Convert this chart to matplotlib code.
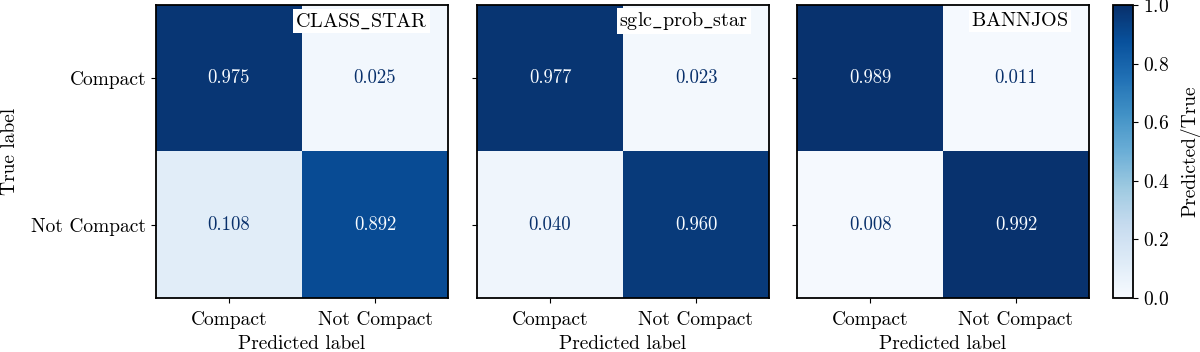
import numpy as np
import matplotlib
matplotlib.use("Agg")
import matplotlib.pyplot as plt

plt.rcParams["font.family"] = "serif"
plt.rcParams["font.serif"] = ["cmr10"]
plt.rcParams["mathtext.fontset"] = "cm"
plt.rcParams["axes.formatter.use_mathtext"] = True
plt.rcParams["font.size"] = 14

labels = ["Compact", "Not Compact"]
titles = [r"$\mathrm{CLASS\_STAR}$", r"$\mathrm{sglc\_prob\_star}$", r"$\mathrm{BANNJOS}$"]
cm_class_star = [[0.975, 0.025], [0.108, 0.892]]
cm_sglc = [[0.977, 0.023], [0.040, 0.960]]
cm_bannjos = [[0.989, 0.011], [0.008, 0.992]]
matrices = [cm_class_star, cm_sglc, cm_bannjos]

cmap = plt.get_cmap("Blues")
fig = plt.figure(figsize=(12, 3.52), dpi=100)
lefts = [156, 477, 797]
W, H = 1200, 352

for i, (m, title) in enumerate(zip(matrices, titles)):
    ax = fig.add_axes([lefts[i] / W, 54 / H, 292 / W, 293 / H])
    m = np.array(m)
    im = ax.imshow(m, cmap=cmap, vmin=0, vmax=1, aspect="auto")
    for r in range(2):
        for c in range(2):
            col = cmap(0.0) if m[r, c] > 0.5 else cmap(1.0)
            ax.text(c, r, f"{m[r, c]:.3f}", ha="center", va="center",
                    color=col, fontsize=13.5)
    ax.set_xticks([0, 1], labels)
    ax.set_yticks([0, 1])
    ax.tick_params(axis="x", pad=6)
    if i == 0:
        ax.set_yticklabels(labels)
        ax.set_ylabel("True label", labelpad=9)
    else:
        ax.set_yticklabels([])
    ax.set_xlabel("Predicted label", labelpad=4)
    for s in ax.spines.values():
        s.set_linewidth(1.3)
    ax.text(0.93, 0.945, title, transform=ax.transAxes, ha="right", va="center",
            fontsize=14.5, bbox=dict(facecolor="white", edgecolor="none", pad=1.5))

cax = fig.add_axes([1113 / W, 54 / H, 20 / W, 293 / H])
cb = fig.colorbar(im, cax=cax)
cb.set_ticks([0, 0.2, 0.4, 0.6, 0.8, 1.0])
cb.set_label("Predicted/True", labelpad=8)
cb.outline.set_linewidth(1.3)

fig.savefig("out.png", dpi=100)
